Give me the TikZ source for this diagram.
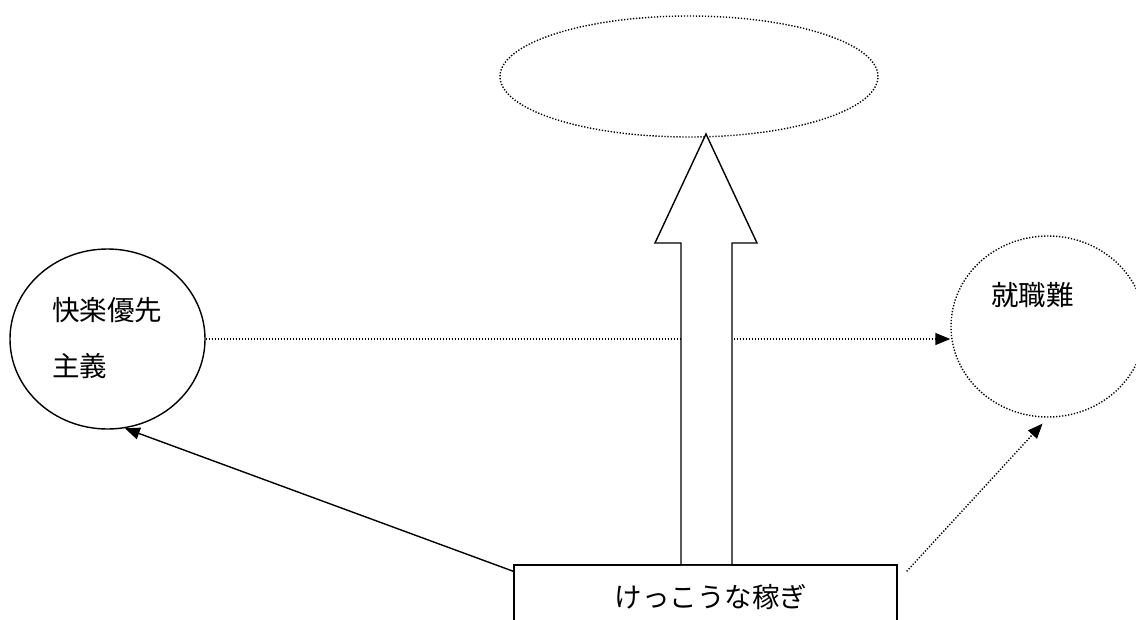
\documentclass[tikz,border=0pt]{standalone}
\usepackage{fontspec}
\newfontfamily\jp{Noto Sans CJK JP}
\usetikzlibrary{arrows.meta,shapes.geometric,calc}
\begin{document}
\begin{tikzpicture}[x=1pt,y=-1pt,
  dotline/.style={line width=1.4pt, dash pattern=on 1.3pt off 1.7pt},
  solidline/.style={line width=1.4pt},
  tip/.style={-{Triangle[length=15pt,width=12pt]}},
  jptext/.style={font=\jp\fontsize{27.5}{32}\selectfont, inner sep=0pt}
]
\useasboundingbox (0,0) rectangle (1136,619);
\clip (0,0) rectangle (1136,619);

% goal ellipse (empty)
\node[ellipse, draw, dotline, minimum width=378pt, minimum height=121pt, inner sep=0pt] (goal) at (689,76.5) {};

% left circle
\node[ellipse, draw, solidline, minimum width=195pt, minimum height=180pt, inner sep=0pt] (left) at (107.5,339) {};
\node[jptext, anchor=west] (lt1) at (52,310) {快楽優先};
\node[jptext, anchor=west] (lt2) at (52,366) {主義};

% right circle
\node[ellipse, draw, dotline, minimum width=194pt, minimum height=181pt, inner sep=0pt] (right) at (1048,326.5) {};
\node[jptext] (rt) at (1032.5,295) {就職難};

% bottom box
\node[rectangle, draw, solidline, fill=white, minimum width=383pt, minimum height=95pt, inner sep=0pt] (box) at (705.5,612.5) {};

% connectors
\draw[dotline, tip] (left.east) -- (left.east -| right.west);
\draw[solidline, tip] ($(box.north west)+(0,7)$) -- (left.281);
\draw[dotline, tip, shorten >=8pt] ($(box.north east)+(9,7)$) -- (right.south);

% big hollow arrow
\draw[solidline, fill=white, line join=miter]
  (681,565) -- (681,243) -- (655,243) -- (706,134) -- (757,243) -- (732,243) -- (732,565);

% redraw box top over arrow bottom
\draw[solidline] (box.north west) -- (box.north east);
\node[jptext] (boxlabel) at (711,597) {けっこうな稼ぎ};
\end{tikzpicture}
\end{document}
